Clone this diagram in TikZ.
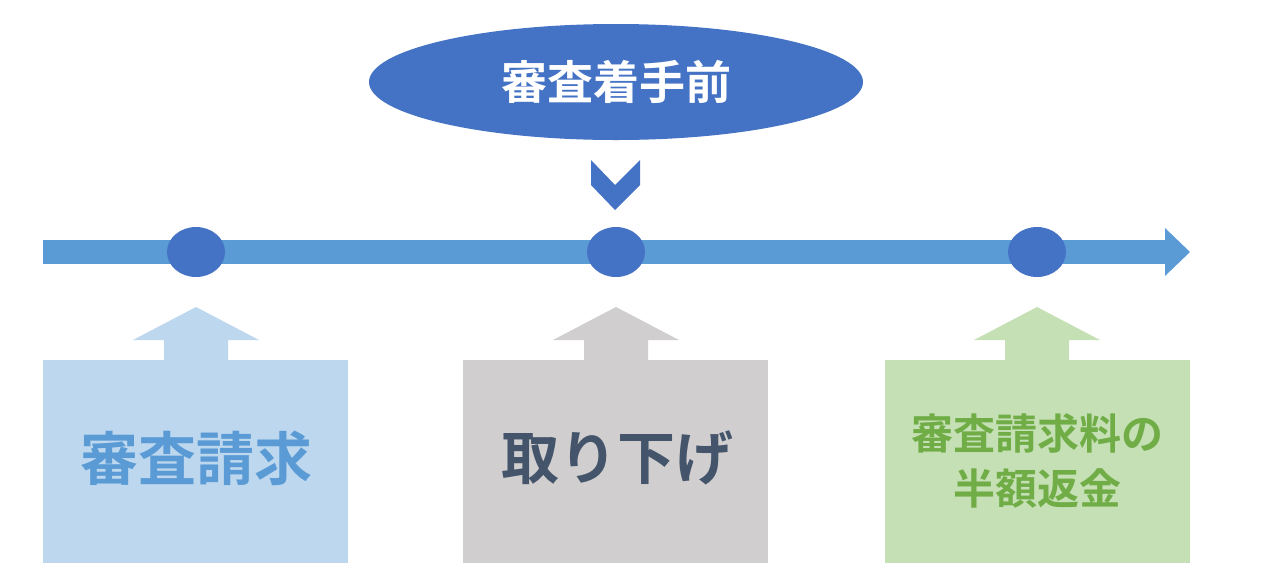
\documentclass[tikz,border=0pt]{standalone}
\usepackage{fontspec}
\newfontfamily\cjk{Noto Sans CJK JP}[BoldFont={Noto Sans CJK JP Bold}]
\usetikzlibrary{shapes.geometric}
\definecolor{dblue}{HTML}{4472C4}
\definecolor{lblue}{HTML}{5B9BD5}
\definecolor{pblue}{HTML}{BDD7EE}
\definecolor{pgray}{HTML}{D0CECE}
\definecolor{pgreen}{HTML}{C5E0B4}
\definecolor{slate}{HTML}{44546A}
\definecolor{green}{HTML}{70AD47}
\begin{document}
\begin{tikzpicture}[x=1pt,y=-1pt,
  dot/.style={ellipse,fill=dblue,minimum width=58pt,minimum height=50pt,inner sep=0},
  box/.style={minimum width=305pt,minimum height=203pt,inner sep=0,font=\cjk\bfseries,align=center}]
\useasboundingbox (0,0) rectangle (1267,582);
\node[ellipse,fill=dblue,minimum width=494pt,minimum height=116pt,text=white,font=\cjk\bfseries\fontsize{46}{50}\selectfont] (top) at (616,82) {審査着手前};
\fill[dblue] (591,160) -- (615,185) -- (640,160) -- (640,185) -- (615,210) -- (591,185) -- cycle;
\fill[lblue] (43,240) rectangle (1166,264);
\fill[lblue] (1165,228) -- (1190,252) -- (1165,276) -- cycle;
\node[dot] (d1) at (196,252) {};
\node[dot] (d2) at (616,252) {};
\node[dot] (d3) at (1037,252) {};
\foreach \cx/\col in {196/pblue,616/pgray,1037/pgreen}{
  \fill[\col] (\cx-63,340) -- (\cx,307) -- (\cx+63,340) -- (\cx+32,340) -- (\cx+32,361) -- (\cx-32,361) -- (\cx-32,340) -- cycle;}
\node[box,fill=pblue] (b1) at (195.5,461.5) {};
\node[text=lblue,font=\cjk\bfseries\fontsize{58}{60}\selectfont] at (196,458) {審査請求};
\node[box,fill=pgray] (b2) at (615.5,461.5) {};
\node[text=slate,font=\cjk\bfseries\fontsize{58}{60}\selectfont] at (617,458) {取り下げ};
\node[box,fill=pgreen] (b3) at (1037,461.5) {};
\node[text=green,align=center,font=\cjk\bfseries\fontsize{42}{55}\selectfont] at (1037,461) {審査請求料の\\半額返金};
\end{tikzpicture}
\end{document}
